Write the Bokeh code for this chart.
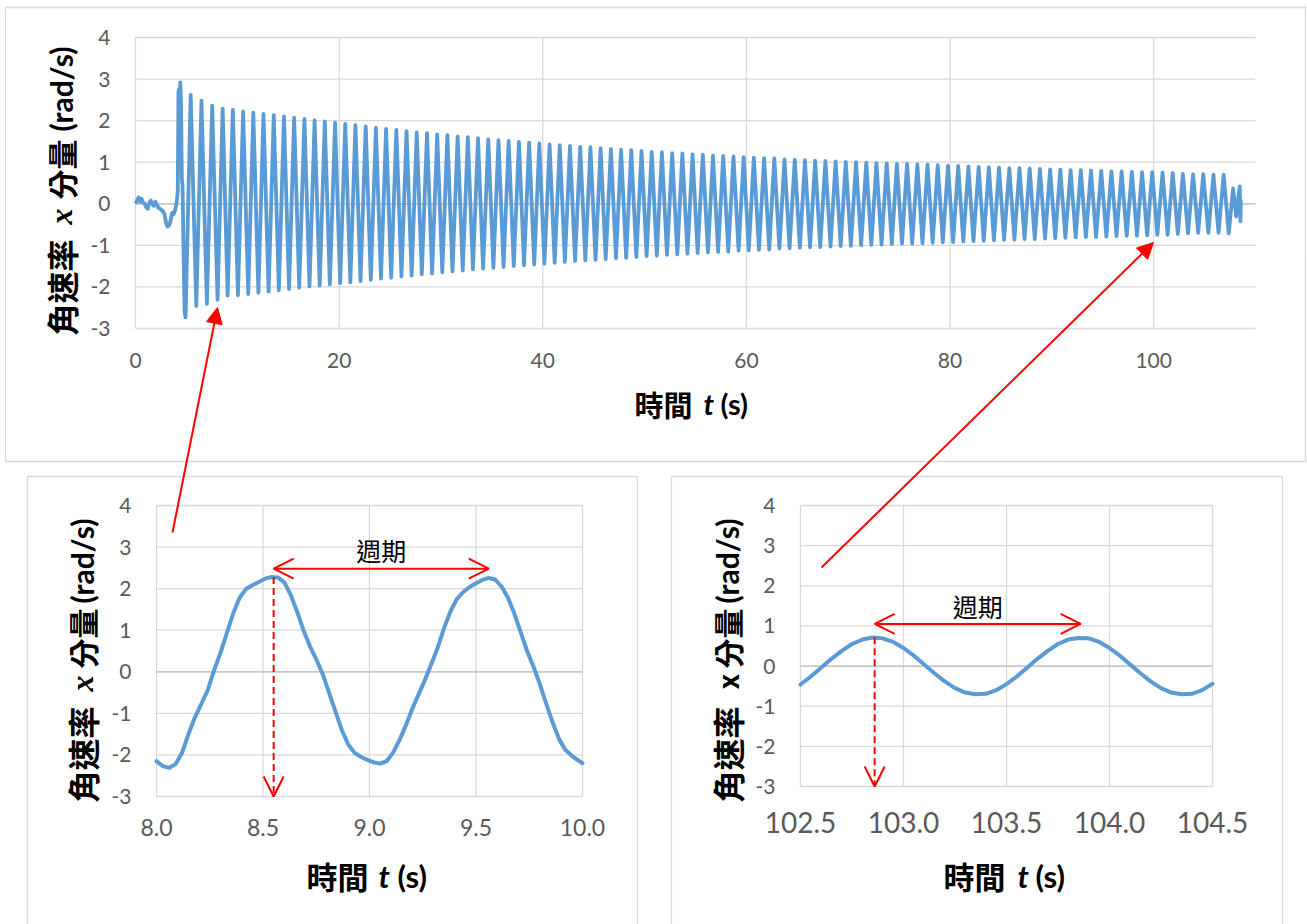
import math
from bokeh.plotting import figure
from bokeh.models import (Range1d, LinearAxis, FixedTicker, PrintfTickFormatter,
                          Arrow, NormalHead, OpenHead)
from bokeh.core.properties import value
from bokeh.embed import file_html
from bokeh.resources import INLINE

W, H = 1307, 924

# ---------------- data ----------------
y_ticks = [-3, -2, -1, 0, 1, 2, 3, 4]
top_ticks_x = [0, 20, 40, 60, 80, 100]
bl_ticks_x = [8.0, 8.5, 9.0, 9.5, 10.0]
br_ticks_x = [102.5, 103.0, 103.5, 104.0, 104.5]

x_title = ["時間 ", "t", " (s)"]
y_title = ["角速率 ", "x", "分量 ", "(rad/s)"]
period_text = "週期"

# top chart: quiet start and first swing
pre_t = [0.00, 0.15, 0.30, 0.45, 0.60, 0.75, 0.90, 1.05, 1.20, 1.35, 1.50, 1.65, 1.80, 1.95,
         2.10, 2.25, 2.40, 2.55, 2.70, 2.85, 3.00, 3.15, 3.30, 3.45, 3.60, 3.75, 3.90, 4.05,
         4.15, 4.22, 4.28, 4.34, 4.40, 4.47, 4.55, 4.62, 4.72, 4.82, 4.92]
pre_w = [0.00, 0.08, 0.15, 0.05, 0.12, 0.02, 0.00, -0.08, -0.12, 0.02, 0.08, 0.00, -0.05, 0.05,
         -0.02, -0.10, -0.12, -0.15, -0.18, -0.25, -0.45, -0.55, -0.52, -0.40, -0.22, -0.25, -0.15, 0.05,
         0.30, 2.70, 2.75, 2.55, 2.92, 2.40, 0.60, 0.45, -1.20, -2.60, -2.73]

# top chart: maxima of each swing
peak_t = [5.42, 6.48, 7.53, 8.56, 9.56, 10.57, 11.57, 12.57, 13.58, 14.58,
          15.58, 16.59, 17.59, 18.59, 19.60, 20.60, 21.60, 22.61, 23.61, 24.61,
          25.62, 26.62, 27.62, 28.63, 29.63, 30.63, 31.64, 32.64, 33.64, 34.65,
          35.65, 36.65, 37.66, 38.66, 39.66, 40.67, 41.67, 42.67, 43.68, 44.68,
          45.68, 46.69, 47.69, 48.69, 49.70, 50.70, 51.70, 52.71, 53.71, 54.71,
          55.72, 56.72, 57.72, 58.73, 59.73, 60.73, 61.74, 62.74, 63.74, 64.75,
          65.75, 66.75, 67.76, 68.76, 69.76, 70.77, 71.77, 72.77, 73.78, 74.78,
          75.78, 76.79, 77.79, 78.79, 79.80, 80.80, 81.80, 82.81, 83.81, 84.81,
          85.82, 86.82, 87.82, 88.83, 89.83, 90.83, 91.84, 92.84, 93.84, 94.85,
          95.85, 96.85, 97.86, 98.86, 99.86, 100.87, 101.87, 102.87, 103.87, 104.87,
          105.87, 106.87]
peak_w = [2.62, 2.48, 2.36, 2.29, 2.26, 2.22, 2.19, 2.16, 2.13, 2.10,
          2.07, 2.04, 2.01, 1.98, 1.95, 1.92, 1.89, 1.86, 1.83, 1.80,
          1.78, 1.75, 1.72, 1.70, 1.67, 1.65, 1.62, 1.60, 1.58, 1.55,
          1.53, 1.51, 1.49, 1.47, 1.45, 1.43, 1.41, 1.39, 1.37, 1.36,
          1.34, 1.32, 1.30, 1.29, 1.27, 1.25, 1.24, 1.22, 1.21, 1.19,
          1.18, 1.16, 1.15, 1.14, 1.12, 1.11, 1.10, 1.09, 1.07, 1.06,
          1.05, 1.04, 1.03, 1.02, 1.01, 1.00, 0.99, 0.98, 0.97, 0.96,
          0.96, 0.95, 0.94, 0.93, 0.92, 0.91, 0.90, 0.89, 0.88, 0.87,
          0.86, 0.86, 0.85, 0.84, 0.83, 0.82, 0.81, 0.81, 0.80, 0.79,
          0.78, 0.78, 0.77, 0.76, 0.76, 0.75, 0.74, 0.72, 0.71, 0.71,
          0.70, 0.70]
# top chart: minima of each swing
trough_t = [5.97, 7.01, 8.06, 9.05, 10.06, 11.07, 12.07, 13.07, 14.08, 15.08,
            16.08, 17.09, 18.09, 19.09, 20.10, 21.10, 22.10, 23.11, 24.11, 25.11,
            26.12, 27.12, 28.12, 29.13, 30.13, 31.13, 32.14, 33.14, 34.14, 35.15,
            36.15, 37.15, 38.16, 39.16, 40.16, 41.17, 42.17, 43.17, 44.18, 45.18,
            46.18, 47.19, 48.19, 49.19, 50.20, 51.20, 52.20, 53.21, 54.21, 55.21,
            56.22, 57.22, 58.22, 59.23, 60.23, 61.23, 62.24, 63.24, 64.24, 65.25,
            66.25, 67.25, 68.26, 69.26, 70.26, 71.27, 72.27, 73.27, 74.28, 75.28,
            76.28, 77.29, 78.29, 79.29, 80.30, 81.30, 82.30, 83.31, 84.31, 85.31,
            86.32, 87.32, 88.32, 89.33, 90.33, 91.33, 92.34, 93.34, 94.34, 95.35,
            96.35, 97.35, 98.36, 99.36, 100.36, 101.37, 102.37, 103.37, 104.37, 105.37,
            106.37, 107.37]
trough_w = [-2.46, -2.41, -2.31, -2.21, -2.20, -2.17, -2.14, -2.11, -2.08, -2.05,
            -2.02, -1.99, -1.97, -1.94, -1.91, -1.89, -1.86, -1.83, -1.80, -1.78,
            -1.75, -1.73, -1.70, -1.68, -1.65, -1.63, -1.61, -1.58, -1.56, -1.54,
            -1.52, -1.50, -1.48, -1.46, -1.44, -1.42, -1.40, -1.38, -1.36, -1.35,
            -1.33, -1.31, -1.30, -1.28, -1.26, -1.25, -1.23, -1.22, -1.20, -1.19,
            -1.17, -1.16, -1.15, -1.13, -1.12, -1.11, -1.10, -1.08, -1.07, -1.06,
            -1.05, -1.04, -1.03, -1.02, -1.01, -1.00, -0.99, -0.98, -0.97, -0.96,
            -0.96, -0.95, -0.94, -0.93, -0.92, -0.91, -0.90, -0.89, -0.88, -0.87,
            -0.86, -0.85, -0.85, -0.84, -0.83, -0.82, -0.81, -0.80, -0.80, -0.79,
            -0.78, -0.77, -0.77, -0.76, -0.75, -0.75, -0.73, -0.71, -0.70, -0.70,
            -0.70, -0.71]
# top chart: last ragged swings
tail_t = [107.80, 108.10, 108.45, 108.52, 108.56]
tail_w = [0.37, -0.30, 0.42, -0.42, 0.10]

# bottom-left zoom (8 s - 10 s)
bl_t = [8.00, 8.03, 8.06, 8.09, 8.12, 8.15, 8.18, 8.21, 8.24, 8.27,
        8.30, 8.33, 8.36, 8.39, 8.42, 8.45, 8.48, 8.51, 8.54, 8.57,
        8.60, 8.63, 8.66, 8.69, 8.72, 8.75, 8.78, 8.81, 8.84, 8.87,
        8.90, 8.93, 8.96, 8.99, 9.02, 9.05, 9.08, 9.11, 9.14, 9.17,
        9.20, 9.23, 9.26, 9.29, 9.32, 9.35, 9.38, 9.41, 9.44, 9.47,
        9.50, 9.53, 9.56, 9.59, 9.62, 9.65, 9.68, 9.71, 9.74, 9.77,
        9.80, 9.83, 9.86, 9.89, 9.92, 9.95, 9.98, 10.00]
bl_w = [-2.15, -2.27, -2.31, -2.22, -1.95, -1.50, -1.10, -0.78, -0.45, 0.03,
        0.45, 0.93, 1.40, 1.78, 1.99, 2.08, 2.16, 2.24, 2.28, 2.27,
        2.15, 1.85, 1.45, 1.00, 0.62, 0.30, -0.05, -0.50, -0.95, -1.40,
        -1.75, -1.95, -2.05, -2.12, -2.18, -2.21, -2.15, -1.95, -1.65, -1.30,
        -0.90, -0.55, -0.20, 0.18, 0.58, 1.05, 1.45, 1.75, 1.92, 2.04,
        2.13, 2.21, 2.26, 2.22, 2.05, 1.78, 1.40, 0.95, 0.50, 0.12,
        -0.30, -0.77, -1.22, -1.62, -1.88, -2.02, -2.13, -2.20]

# bottom-right zoom (102.5 s - 104.5 s)
br_t = [102.50, 102.55, 102.60, 102.65, 102.70, 102.75, 102.80, 102.85, 102.90, 102.95,
        103.00, 103.05, 103.10, 103.15, 103.20, 103.25, 103.30, 103.35, 103.40, 103.45,
        103.50, 103.55, 103.60, 103.65, 103.70, 103.75, 103.80, 103.85, 103.90, 103.95,
        104.00, 104.05, 104.10, 104.15, 104.20, 104.25, 104.30, 104.35, 104.40, 104.45,
        104.50]
br_w = [-0.46, -0.26, -0.04, 0.18, 0.38, 0.55, 0.66, 0.71, 0.69, 0.60,
        0.45, 0.26, 0.04, -0.18, -0.38, -0.55, -0.66, -0.70, -0.69, -0.60,
        -0.45, -0.26, -0.04, 0.18, 0.38, 0.55, 0.66, 0.70, 0.69, 0.60,
        0.45, 0.26, 0.04, -0.18, -0.38, -0.55, -0.66, -0.70, -0.69, -0.60,
        -0.44]

# period markers
bl_peak1, bl_peak2, bl_peak_w, bl_arrow_w = 8.55, 9.56, 2.28, 2.48
br_peak1, br_peak2, br_peak_w, br_arrow_w = 102.86, 103.86, 0.72, 1.05

# ---------------- figure ----------------
BLUE = "#5B9BD5"
GRID = "#D9D9D9"
ZERO = "#BFBFBF"
RED = "#FF0000"
TICK = "#595959"

p = figure(width=W, height=H, x_range=Range1d(0, W), y_range=Range1d(0, H),
           output_backend="svg", toolbar_location=None,
           x_axis_type=None, y_axis_type=None, min_border=0)
p.outline_line_color = None
p.background_fill_color = "white"
p.border_fill_color = "white"
p.grid.visible = False


def Y(py):
    return H - py


# panel frames
p.quad(left=[5, 27, 671], right=[1305, 637, 1282], top=[Y(7), Y(476), Y(476)],
       bottom=[Y(461), Y(940), Y(940)], fill_color=None, line_color=GRID, line_width=1.3)

xr, yr = {}, {}


def chart(name, xlo, xhi, ylo, yhi, left, right, top, bottom):
    kx = (right - left) / (xhi - xlo)
    ky = (bottom - top) / (yhi - ylo)
    xr[name] = Range1d(start=xlo - left / kx, end=xlo + (W - left) / kx)
    yr[name] = Range1d(start=ylo - (H - bottom) / ky, end=yhi + top / ky)


chart("top", 0, 110, -3, 4, 135, 1255, 37, 328)
chart("bl", 8, 10, -3, 4, 156, 582, 505, 796)
chart("br", 102.5, 104.5, -3, 4, 800, 1212, 505, 786)
p.extra_x_ranges = xr
p.extra_y_ranges = yr


def grids(name, xticks, xlo, xhi):
    kw = dict(x_range_name=name, y_range_name=name)
    p.segment(x0=xticks, y0=y_ticks[0], x1=xticks, y1=y_ticks[-1], line_color=GRID, line_width=1.3, **kw)
    p.segment(x0=xlo, y0=y_ticks, x1=xhi, y1=y_ticks, line_color=GRID, line_width=1.3, **kw)
    p.segment(x0=[xlo], y0=[0], x1=[xhi], y1=[0], line_color=ZERO, line_width=1.3, **kw)


grids("top", top_ticks_x, 0, 110)
grids("bl", bl_ticks_x, 8, 10)
grids("br", br_ticks_x, 102.5, 104.5)


def axes(name, xticks, xfmt, xsize, ysize, xstand, ystand, xloc, yloc):
    ax = LinearAxis(x_range_name=name, y_range_name=name, ticker=FixedTicker(ticks=xticks),
                    formatter=PrintfTickFormatter(format=xfmt), fixed_location=yloc)
    ay = LinearAxis(x_range_name=name, y_range_name=name, ticker=FixedTicker(ticks=y_ticks),
                    formatter=PrintfTickFormatter(format="%d"), fixed_location=xloc)
    for a, s, st in ((ax, xsize, xstand), (ay, ysize, ystand)):
        a.axis_line_color = None
        a.major_tick_line_color = None
        a.minor_tick_line_color = None
        a.major_tick_out = 0
        a.major_tick_in = 0
        a.major_label_standoff = st
        a.major_label_text_font = "Lato"
        a.major_label_text_font_size = s
        a.major_label_text_color = TICK
    p.add_layout(ax, "below")
    p.add_layout(ay, "left")


axes("top", top_ticks_x, "%d", "21px", "21px", 24, 25, 0, -3)
axes("bl", bl_ticks_x, "%.1f", "23px", "21px", 22, 25, 8, -3)
axes("br", br_ticks_x, "%.1f", "28px", "21px", 25, 25, 102.5, -3)

# series
osc_t, osc_w = [], []
for a, b, c, d in zip(peak_t, peak_w, trough_t, trough_w):
    osc_t += [a, c]
    osc_w += [b, d]
top_t = pre_t + osc_t + tail_t
top_w = pre_w + osc_w + tail_w

p.line(top_t, top_w, x_range_name="top", y_range_name="top", line_color=BLUE, line_width=3.8,
       line_join="round")
p.line(bl_t, bl_w, x_range_name="bl", y_range_name="bl", line_color=BLUE, line_width=4,
       line_join="round", line_cap="round")
p.line(br_t, br_w, x_range_name="br", y_range_name="br", line_color=BLUE, line_width=4,
       line_join="round", line_cap="round")


# text helper (pixel coordinates)
def label(x, y, s, font, size, style="normal", angle=0.0, align="left", color="#000000"):
    p.text(x=[x], y=[Y(y)], text=[s], text_font=value(font), text_font_size=value(f"{size}px"),
           text_font_style=value(style), angle=angle, text_align=value(align),
           text_baseline=value("middle"), text_color=color)


CJK = "Noto Sans CJK TC"
LAT = "Lato"
R90 = math.pi / 2

# x titles
for (x0, xt, xs, yy, sz) in ((634, 703, 720, 403, 29), (306, 378, 397, 875, 31), (943, 1017, 1035, 875, 31)):
    label(x0, yy, x_title[0].strip(), CJK, sz, "bold")
    label(xt, yy, x_title[1], LAT, sz, "bold italic")
    label(xs, yy, x_title[2].strip(), LAT, sz, "bold")

# y titles (reading upward)
for (cx, y0, yx, y2, y3, italic) in ((60, 335, 224, 199, 131, True), (81, 802, 691, 668, 603, True),
                                     (726, 802, 689, 668, 603, False)):
    label(cx, y0, y_title[0].strip(), CJK, 32, "bold", angle=R90)
    if italic:
        label(cx, yx, y_title[1], "Liberation Serif", 32, "bold italic", angle=R90)
    else:
        label(cx, yx, y_title[1], CJK, 28, "bold", angle=R90)
    label(cx, y2, y_title[2].strip(), CJK, 30, "bold", angle=R90)
    label(cx, y3, y_title[3], LAT, 30, "bold", angle=R90)

# period annotations
for name, t1, t2, pw, aw in (("bl", bl_peak1, bl_peak2, bl_peak_w, bl_arrow_w),
                             ("br", br_peak1, br_peak2, br_peak_w, br_arrow_w)):
    kw = dict(x_range_name=name, y_range_name=name)
    p.add_layout(Arrow(start=OpenHead(size=20, line_color=RED, line_width=2),
                       end=OpenHead(size=20, line_color=RED, line_width=2),
                       x_start=t1, y_start=aw, x_end=t2, y_end=aw,
                       line_color=RED, line_width=2, **kw))
    p.add_layout(Arrow(end=OpenHead(size=20, line_color=RED, line_width=2),
                       x_start=t1, y_start=pw, x_end=t1, y_end=-3,
                       line_color=RED, line_width=2, line_dash="7 4", **kw))
    p.text(x=[(t1 + t2) / 2], y=[aw + 0.45], text=[period_text], text_font=value(CJK),
           text_font_size=value("25px"), text_align="center", text_baseline="middle",
           text_color="#000000", **kw)

# arrows linking the panels (pixel coordinates)
p.add_layout(Arrow(end=NormalHead(size=16, fill_color=RED, line_color=RED),
                   x_start=172, y_start=Y(532), x_end=217, y_end=Y(307),
                   line_color=RED, line_width=2))
p.add_layout(Arrow(end=NormalHead(size=16, fill_color=RED, line_color=RED),
                   x_start=821, y_start=Y(567), x_end=1153, y_end=Y(242),
                   line_color=RED, line_width=2))

open("out.html", "w").write(file_html(p, INLINE))
